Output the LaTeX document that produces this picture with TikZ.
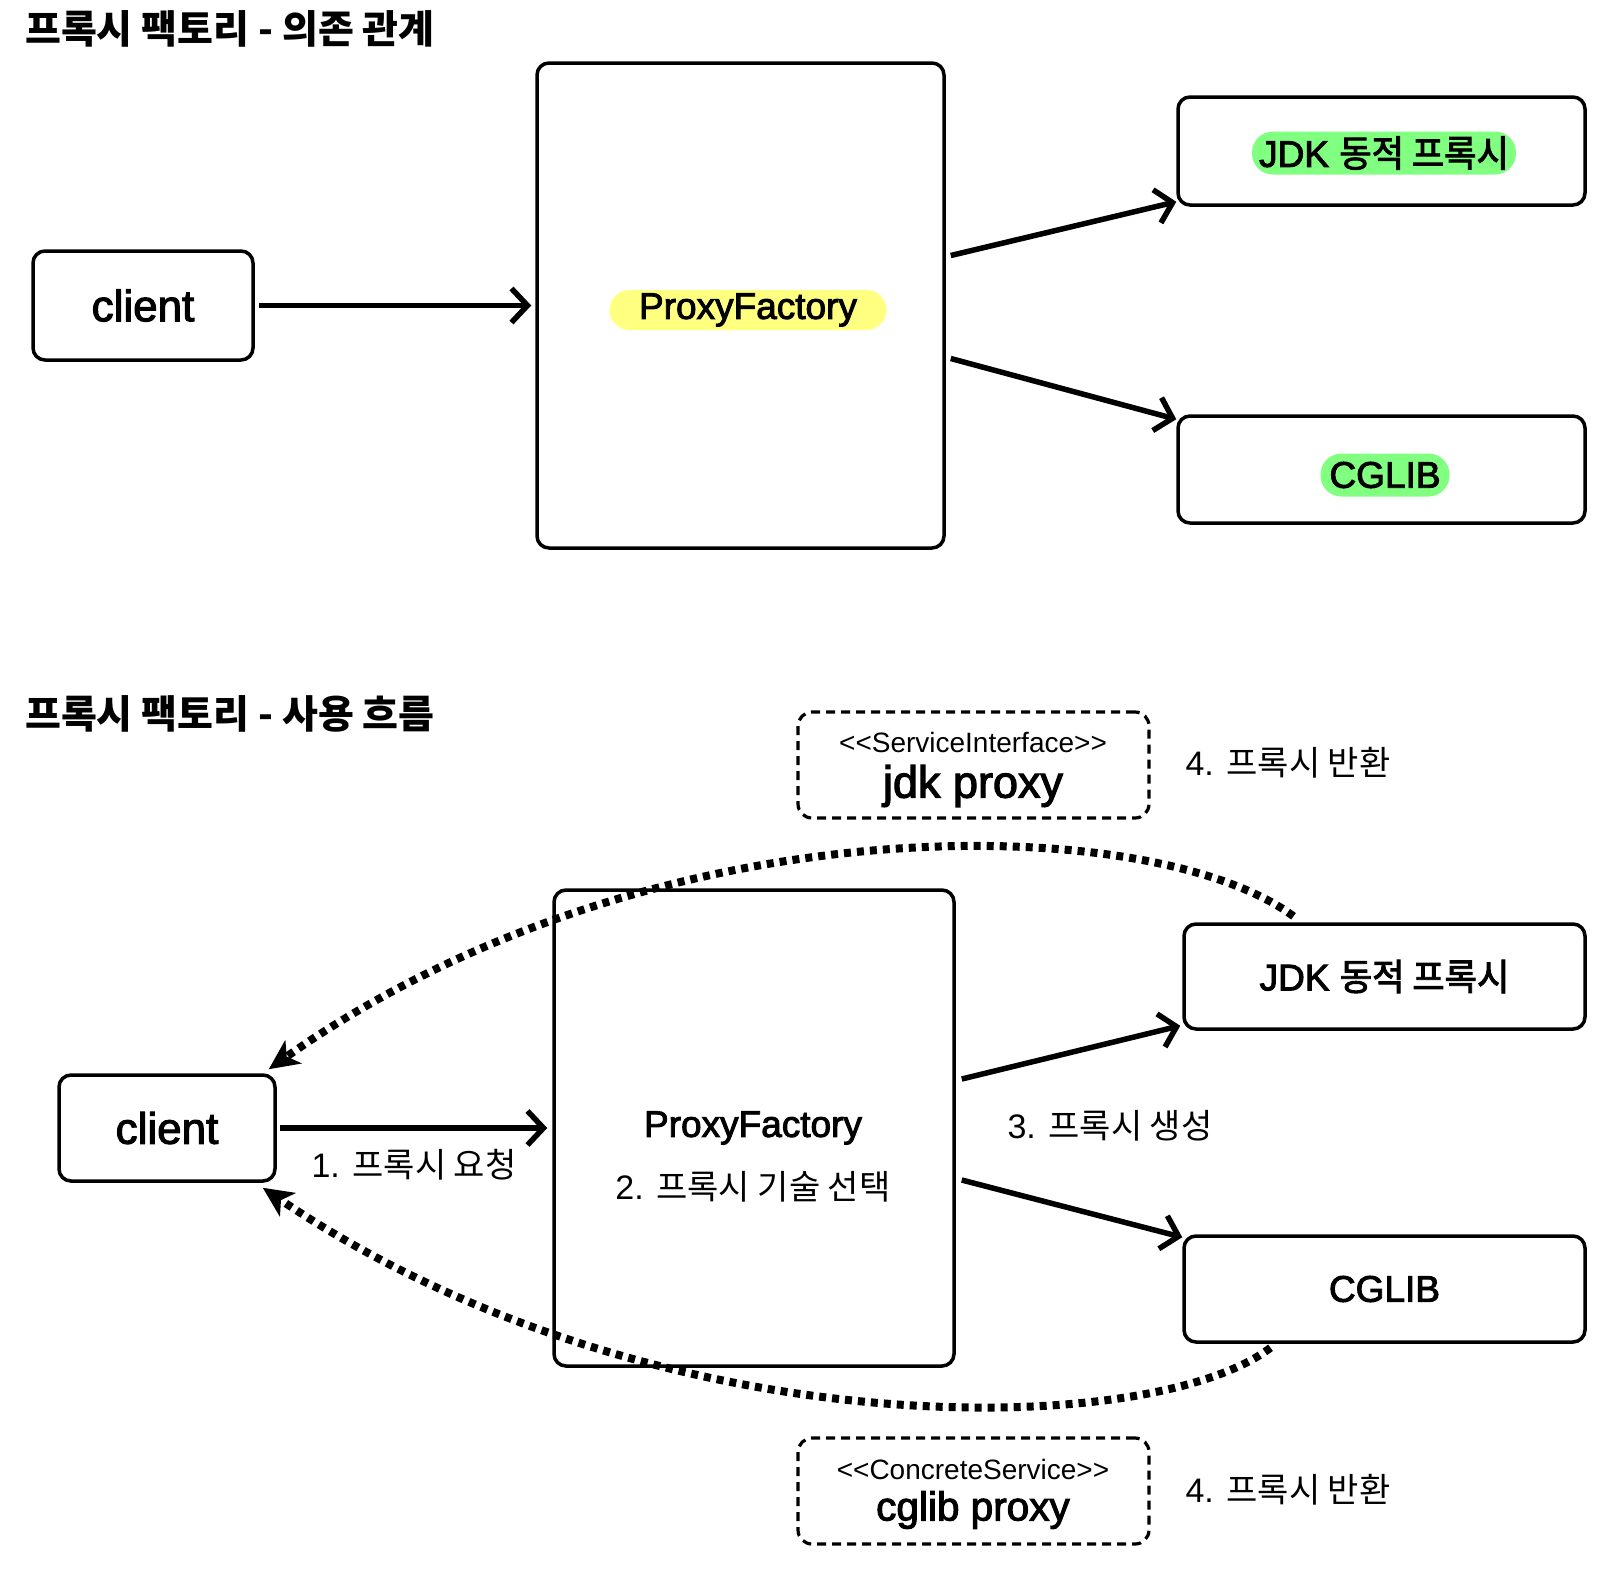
\documentclass[tikz,border=0pt]{standalone}
\usepackage{fontspec}
\setmainfont{Liberation Sans}
\newfontfamily\lblkr{Noto Sans CJK KR}
\newfontfamily\lblkrmed[FakeStretch=0.95,FakeBold=2.5]{Noto Sans CJK KR}
\newfontfamily\lblmed[FakeBold=2.5]{Liberation Sans}
\newfontfamily\lblplain{Liberation Sans}
\usetikzlibrary{arrows.meta,calc}
\tikzset{
  box/.style={draw, line width=3.5pt, rounded corners=12pt, fill=white, inner sep=0pt},
  dbox/.style={draw, line width=3.2pt, rounded corners=14pt, dash pattern=on 9pt off 6pt, inner sep=0pt},
  sk/.style={line width=5.5pt, -{Straight Barb[length=16pt,width=34pt]}},
  ret/.style={line width=8pt, dash pattern=on 7pt off 6pt, -{Stealth[length=30pt,width=28pt,inset=8pt]}},
  ttl/.style={anchor=west, inner sep=0pt, font=\lblkr\bfseries\fontsize{39}{43}\selectfont},
  medlbl/.style={inner sep=0pt, font=\lblmed\fontsize{37}{42}\selectfont},
  numlbl/.style={inner sep=0pt, font=\fontsize{34}{40}\selectfont},
  stereo/.style={inner sep=0pt, font=\lblplain\fontsize{28}{32}\selectfont},
  hlY/.style={fill={rgb,255:red,255;green,255;blue,128}, rounded corners=20pt, minimum height=40pt, inner xsep=0pt, inner ysep=0pt, font=\lblmed\fontsize{37}{42}\selectfont},
  hlG/.style={fill={rgb,255:red,128;green,255;blue,128}, rounded corners=21pt, minimum height=43pt, inner xsep=0pt, inner ysep=0pt, font=\lblmed\fontsize{37}{42}\selectfont},
}
\begin{document}
\begin{tikzpicture}[x=1pt,y=-1pt]
\fill[white] (0,0) rectangle (1622,1572);
\useasboundingbox (0,0) rectangle (1622,1572);

% ---------- top section ----------
\node[ttl] (t1) at (25,29) {프록시 팩토리 - 의존 관계};
\node[box, minimum width=220pt, minimum height=109pt, font=\lblmed\fontsize{44}{50}\selectfont] (c1) at (143,305.5) {client};
\node[box, minimum width=407pt, minimum height=485pt] (pf1) at (740.5,305.5) {};
\node[hlY, minimum width=277pt] (pf1l) at (748,310) {ProxyFactory};
\node[box, minimum width=407pt, minimum height=108pt] (j1) at (1381.5,151) {};
\node[hlG, minimum width=264pt] (j1l) at (1384,153) {JDK {\lblkrmed 동적 프록시}};
\node[box, minimum width=407pt, minimum height=107pt] (g1) at (1381.5,469.5) {};
\node[hlG, minimum width=129pt] (g1l) at (1385,475) {CGLIB};

\draw[sk] ([xshift=4pt]c1.east) -- ([xshift=-4pt]pf1.west);
\draw[sk] ([xshift=5pt,yshift=50pt]pf1.east) -- ([yshift=5pt]j1.south west);
\draw[sk] ([xshift=5pt,yshift=-53pt]pf1.east) -- ([yshift=-5pt]g1.north west);

% ---------- bottom section ----------
\node[ttl] (t2) at (25,714) {프록시 팩토리 - 사용 흐름};

\node[dbox, minimum width=351pt, minimum height=106pt] (si) at (973.5,765) {};
\node[stereo] (sit) at (973,742) {<<ServiceInterface>>};
\node[inner sep=0pt, font=\lblmed\fontsize{45}{50}\selectfont] (sin) at (973,786) {jdk proxy};
\node[numlbl] (r1) at (1288,763) {4. {\lblkr 프록시 반환}};

\node[dbox, minimum width=351pt, minimum height=106pt] (cs) at (973.5,1491) {};
\node[stereo] (cst) at (973,1469) {<<ConcreteService>>};
\node[inner sep=0pt, font=\lblmed\fontsize{40.5}{46}\selectfont] (csn) at (973,1510) {cglib proxy};
\node[numlbl] (r2) at (1288,1490) {4. {\lblkr 프록시 반환}};

\node[box, minimum width=216pt, minimum height=106pt, font=\lblmed\fontsize{44}{50}\selectfont] (c2) at (167,1128) {client};
\node[box, minimum width=400pt, minimum height=476pt] (pf2) at (754,1128) {};
\node[medlbl] (pf2a) at (753,1128) {ProxyFactory};
\node[numlbl] (pf2b) at (753,1187) {2. {\lblkr 프록시 기술 선택}};
\node[box, minimum width=401pt, minimum height=105pt, font=\lblmed\fontsize{37}{42}\selectfont] (j2) at (1384.5,976.5) {JDK {\lblkrmed 동적 프록시}};
\node[box, minimum width=401pt, minimum height=106pt, font=\lblmed\fontsize{37}{42}\selectfont] (g2) at (1384.5,1289) {CGLIB};

\draw[sk] ([xshift=3pt]c2.east) -- ([xshift=-5pt]pf2.west);
\node[numlbl] (l1) at (414,1165) {1. {\lblkr 프록시 요청}};
\draw[sk] ([xshift=6pt,yshift=49pt]pf2.east) -- ([xshift=-2pt,yshift=5pt]j2.south west);
\draw[sk] ([xshift=6pt,yshift=-52pt]pf2.east) -- ([yshift=-3pt]g2.north west);
\node[numlbl] (l3) at (1110,1126) {3. {\lblkr 프록시 생성}};

\draw[ret] ([xshift=-91pt,yshift=6pt]j2.north) .. controls (1150,810) and (650,800) .. ([xshift=-8pt,yshift=4pt]c2.north east);
\draw[ret] ([xshift=-114pt,yshift=-4pt]g2.south) .. controls (1150,1440) and (650,1450) .. ([xshift=-14pt,yshift=-5pt]c2.south east);
\end{tikzpicture}
\end{document}
